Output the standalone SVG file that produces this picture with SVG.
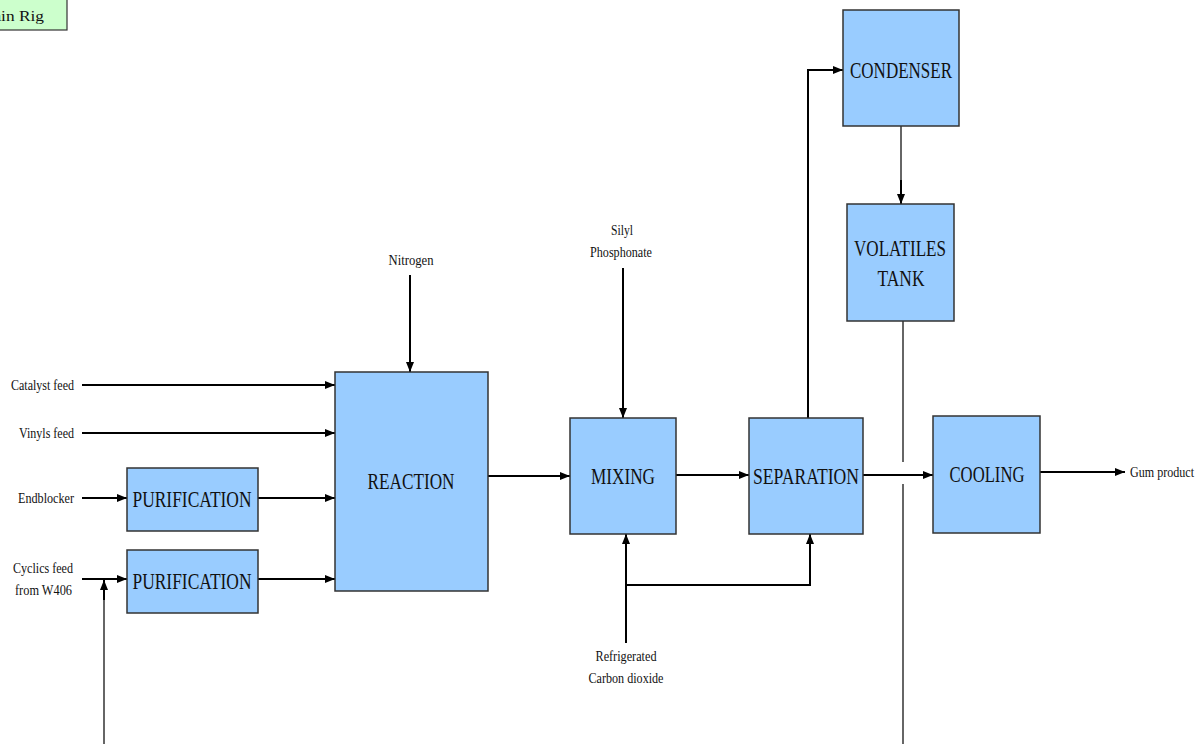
<svg xmlns="http://www.w3.org/2000/svg" width="1200" height="744" viewBox="0 0 1200 744">
<style>
.box{fill:#99ccff;stroke:#333;stroke-width:1.5}
.big{font-family:"Liberation Serif","Times New Roman",serif;font-size:24px;fill:#111;text-anchor:middle}
.sm{font-family:"Liberation Serif","Times New Roman",serif;font-size:15px;fill:#111}
.ln{fill:none;stroke:#000;stroke-width:2}
.gl{fill:none;stroke:#666;stroke-width:2}
</style>
<defs>
<marker id="ah" markerUnits="userSpaceOnUse" markerWidth="10" markerHeight="10" viewBox="0 0 10 10" refX="10" refY="5" orient="auto">
<path d="M0,1 L10,5 L0,9 Z" fill="#000"/>
</marker>
</defs>
<rect width="1200" height="744" fill="#fff"/>
<g id="main-rig">
<rect x="-10" y="-5" width="77" height="35" fill="#ccffcc" stroke="#333" stroke-width="1.2"/>
<text x="44" y="21" class="sm" text-anchor="end" textLength="66" lengthAdjust="spacingAndGlyphs" font-size="17">Main Rig</text>
</g>
<g id="connectors">
<path class="ln" d="M82,385 H335" marker-end="url(#ah)"/>
<path class="ln" d="M82,433 H335" marker-end="url(#ah)"/>
<path class="ln" d="M82,498 H127" marker-end="url(#ah)"/>
<path class="ln" d="M258,498 H335" marker-end="url(#ah)"/>
<path class="ln" d="M82,579 H127" marker-end="url(#ah)"/>
<path class="ln" d="M258,579 H335" marker-end="url(#ah)"/>
<path class="gl" d="M104,744 V591"/>
<path class="ln" d="M104,600 V580" marker-end="url(#ah)"/>
<path class="ln" d="M410,275 V372" marker-end="url(#ah)"/>
<path class="ln" d="M488,476 H570" marker-end="url(#ah)"/>
<path class="ln" d="M623,268 V418" marker-end="url(#ah)"/>
<path class="ln" d="M676,475 H749" marker-end="url(#ah)"/>
<path class="ln" d="M626,643 V534" marker-end="url(#ah)"/>
<path class="ln" d="M626,585 H810 V534" marker-end="url(#ah)"/>
<path class="ln" d="M808,418 V70 H843" marker-end="url(#ah)"/>
<path class="gl" d="M901,126 V204"/>
<path class="ln" d="M901,180 V204" marker-end="url(#ah)"/>
<path class="gl" d="M903,321 V462 M903,484 V744"/>
<path class="ln" d="M863,475 H933" marker-end="url(#ah)"/>
<path class="ln" d="M1040,472 H1125" marker-end="url(#ah)"/>
</g>
<g id="reaction"><rect class="box" x="335" y="372" width="153" height="219"/><text class="big" x="411" y="489" textLength="87" lengthAdjust="spacingAndGlyphs">REACTION</text></g>
<g id="purification1"><rect class="box" x="127" y="468" width="131" height="63"/><text class="big" x="192" y="507" textLength="119" lengthAdjust="spacingAndGlyphs">PURIFICATION</text></g>
<g id="purification2"><rect class="box" x="127" y="550" width="131" height="63"/><text class="big" x="192" y="589" textLength="119" lengthAdjust="spacingAndGlyphs">PURIFICATION</text></g>
<g id="mixing"><rect class="box" x="570" y="418" width="106" height="116"/><text class="big" x="623" y="484" textLength="64" lengthAdjust="spacingAndGlyphs">MIXING</text></g>
<g id="separation"><rect class="box" x="749" y="418" width="114" height="116"/><text class="big" x="806" y="484" textLength="106" lengthAdjust="spacingAndGlyphs">SEPARATION</text></g>
<g id="cooling"><rect class="box" x="933" y="416" width="107" height="117"/><text class="big" x="987" y="482" textLength="75" lengthAdjust="spacingAndGlyphs">COOLING</text></g>
<g id="condenser"><rect class="box" x="843" y="10" width="116" height="116"/><text class="big" x="901" y="78" textLength="102" lengthAdjust="spacingAndGlyphs">CONDENSER</text></g>
<g id="volatiles-tank"><rect class="box" x="847" y="204" width="107" height="117"/><text class="big" x="900" y="256" textLength="92" lengthAdjust="spacingAndGlyphs">VOLATILES</text><text class="big" x="901" y="286" textLength="47" lengthAdjust="spacingAndGlyphs">TANK</text></g>
<g id="labels">
<text class="sm" x="74" y="390" text-anchor="end" textLength="63" lengthAdjust="spacingAndGlyphs">Catalyst feed</text>
<text class="sm" x="74" y="438" text-anchor="end" textLength="55" lengthAdjust="spacingAndGlyphs">Vinyls feed</text>
<text class="sm" x="74" y="503" text-anchor="end" textLength="56" lengthAdjust="spacingAndGlyphs">Endblocker</text>
<text class="sm" x="73" y="573" text-anchor="end" textLength="60" lengthAdjust="spacingAndGlyphs">Cyclics feed</text>
<text class="sm" x="72" y="595" text-anchor="end" textLength="57" lengthAdjust="spacingAndGlyphs">from W406</text>
<text class="sm" x="411" y="265" text-anchor="middle" textLength="45" lengthAdjust="spacingAndGlyphs">Nitrogen</text>
<text class="sm" x="622" y="235" text-anchor="middle" textLength="22" lengthAdjust="spacingAndGlyphs">Silyl</text>
<text class="sm" x="621" y="257" text-anchor="middle" textLength="62" lengthAdjust="spacingAndGlyphs">Phosphonate</text>
<text class="sm" x="626" y="661" text-anchor="middle" textLength="61" lengthAdjust="spacingAndGlyphs">Refrigerated</text>
<text class="sm" x="626" y="683" text-anchor="middle" textLength="75" lengthAdjust="spacingAndGlyphs">Carbon dioxide</text>
<text class="sm" x="1130" y="477" textLength="64" lengthAdjust="spacingAndGlyphs">Gum product</text>
</g>
</svg>
